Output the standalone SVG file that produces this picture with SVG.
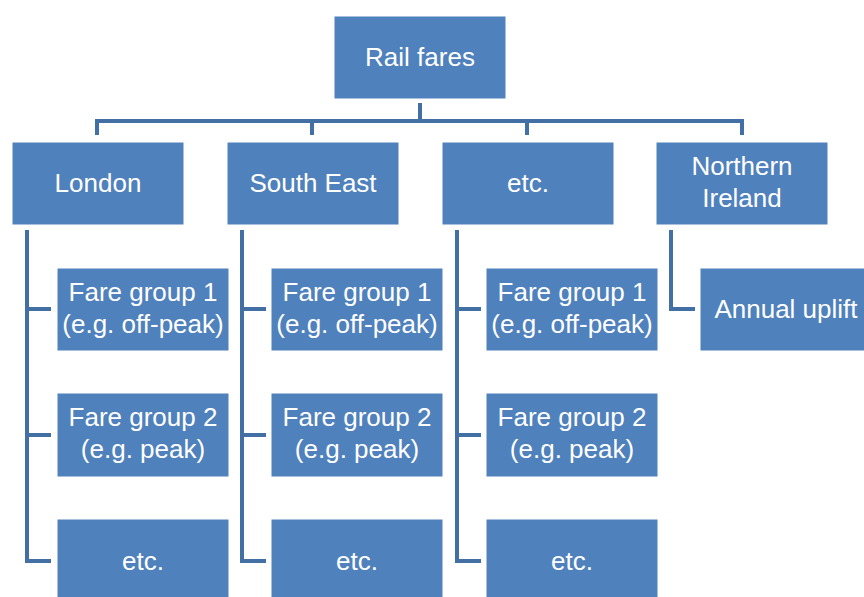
<svg xmlns="http://www.w3.org/2000/svg" width="864" height="597" viewBox="0 0 864 597">
<style>
.box{fill:#4f81bd;stroke:#ffffff;stroke-width:1}
.t{font-family:"Liberation Sans",Arial,sans-serif;font-size:26px;fill:#ffffff;text-anchor:middle}
.c{fill:none;stroke:#4370a4;stroke-width:4;stroke-linejoin:miter}
</style>
<rect width="864" height="597" fill="#ffffff"/>
<g id="connectors">
<path class="c" d="M420,103 V121 M97,135 V121 H742 V135 M312,121 V135 M527,121 V135"/>
<path class="c" d="M27,230 V561 H51 M27,309 H51 M27,435 H51"/>
<path class="c" d="M242,230 V561 H266 M242,309 H266 M242,435 H266"/>
<path class="c" d="M457,230 V561 H481 M457,309 H481 M457,435 H481"/>
<path class="c" d="M671,230 V309 H695"/>
</g>
<g id="root"><rect class="box" x="334" y="16" width="172" height="83"/><text class="t" x="420" y="66">Rail fares</text></g>
<g id="london"><rect class="box" x="12" y="142" width="172" height="83"/><text class="t" x="98" y="192">London</text></g>
<g id="southeast"><rect class="box" x="227" y="142" width="172" height="83"/><text class="t" x="313" y="192">South East</text></g>
<g id="etc"><rect class="box" x="442" y="142" width="172" height="83"/><text class="t" x="528" y="192">etc.</text></g>
<g id="ni"><rect class="box" x="656" y="142" width="172" height="83"/><text class="t" x="742" y="175">Northern</text><text class="t" x="742" y="207">Ireland</text></g>
<g id="london-fg1"><rect class="box" x="57" y="268" width="172" height="83"/><text class="t" x="143" y="301">Fare group 1</text><text class="t" x="143" y="333">(e.g. off-peak)</text></g>
<g id="london-fg2"><rect class="box" x="57" y="393" width="172" height="84"/><text class="t" x="143" y="426">Fare group 2</text><text class="t" x="143" y="458">(e.g. peak)</text></g>
<g id="london-etc"><rect class="box" x="57" y="519" width="172" height="84"/><text class="t" x="143" y="570">etc.</text></g>
<g id="se-fg1"><rect class="box" x="271" y="268" width="172" height="83"/><text class="t" x="357" y="301">Fare group 1</text><text class="t" x="357" y="333">(e.g. off-peak)</text></g>
<g id="se-fg2"><rect class="box" x="271" y="393" width="172" height="84"/><text class="t" x="357" y="426">Fare group 2</text><text class="t" x="357" y="458">(e.g. peak)</text></g>
<g id="se-etc"><rect class="box" x="271" y="519" width="172" height="84"/><text class="t" x="357" y="570">etc.</text></g>
<g id="etc-fg1"><rect class="box" x="486" y="268" width="172" height="83"/><text class="t" x="572" y="301">Fare group 1</text><text class="t" x="572" y="333">(e.g. off-peak)</text></g>
<g id="etc-fg2"><rect class="box" x="486" y="393" width="172" height="84"/><text class="t" x="572" y="426">Fare group 2</text><text class="t" x="572" y="458">(e.g. peak)</text></g>
<g id="etc-etc"><rect class="box" x="486" y="519" width="172" height="84"/><text class="t" x="572" y="570">etc.</text></g>
<g id="ni-uplift"><rect class="box" x="700" y="268" width="172" height="83"/><text class="t" x="786" y="318">Annual uplift</text></g>
</svg>
